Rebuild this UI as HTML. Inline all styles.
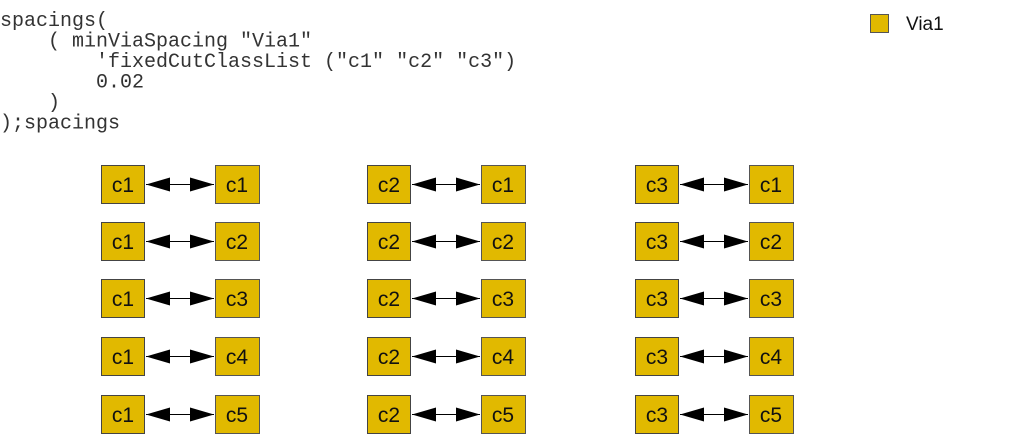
<!DOCTYPE html>
<html><head><meta charset="utf-8"><style>
html,body{margin:0;padding:0;background:#fff;width:1013px;height:447px;overflow:hidden}
.code text{white-space:pre}
</style></head><body>
<svg width="1013" height="447" viewBox="0 0 1013 447" xmlns="http://www.w3.org/2000/svg">
<defs>
<marker id="a" markerWidth="24" markerHeight="14" refX="24" refY="7" orient="auto" markerUnits="userSpaceOnUse" viewBox="0 0 24 14">
<path d="M0,0 L24,7 L0,14 Z" fill="#000"/></marker>
<marker id="b" markerWidth="24" markerHeight="14" refX="0" refY="7" orient="auto" markerUnits="userSpaceOnUse" viewBox="0 0 24 14">
<path d="M24,0 L0,7 L24,14 Z" fill="#000"/></marker>
</defs>
<g class="code" font-family="Liberation Mono, monospace" font-size="20" fill="#333">
<text x="0" y="26">spacings(</text>
<text x="0" y="46.5">    ( minViaSpacing "Via1"</text>
<text x="0" y="67">        'fixedCutClassList ("c1" "c2" "c3")</text>
<text x="0" y="87.5">        0.02</text>
<text x="0" y="108">    )</text>
<text x="0" y="128.5">);spacings</text>
</g>
<rect x="870.5" y="14.5" width="18" height="18" fill="#e1b900" stroke="#555"/>
<text x="906" y="30" font-family="Liberation Sans, sans-serif" font-size="19" fill="#111">Via1</text>
<g font-family="Liberation Sans, sans-serif" font-size="21" text-anchor="middle" fill="#111">
<rect x="101.5" y="165.5" width="43" height="38" fill="#e1b900" stroke="#444"/><text x="123" y="192">c1</text>
<rect x="215.5" y="165.5" width="44" height="38" fill="#e1b900" stroke="#555"/><text x="237" y="192">c1</text>
<line x1="146" y1="184.5" x2="214" y2="184.5" stroke="#000" marker-start="url(#b)" marker-end="url(#a)"/>
<rect x="101.5" y="222.5" width="43" height="38" fill="#e1b900" stroke="#444"/><text x="123" y="249">c1</text>
<rect x="215.5" y="222.5" width="44" height="38" fill="#e1b900" stroke="#555"/><text x="237" y="249">c2</text>
<line x1="146" y1="241.5" x2="214" y2="241.5" stroke="#000" marker-start="url(#b)" marker-end="url(#a)"/>
<rect x="101.5" y="279.5" width="43" height="38" fill="#e1b900" stroke="#444"/><text x="123" y="306">c1</text>
<rect x="215.5" y="279.5" width="44" height="38" fill="#e1b900" stroke="#555"/><text x="237" y="306">c3</text>
<line x1="146" y1="298.5" x2="214" y2="298.5" stroke="#000" marker-start="url(#b)" marker-end="url(#a)"/>
<rect x="101.5" y="337.5" width="43" height="38" fill="#e1b900" stroke="#444"/><text x="123" y="364">c1</text>
<rect x="215.5" y="337.5" width="44" height="38" fill="#e1b900" stroke="#555"/><text x="237" y="364">c4</text>
<line x1="146" y1="356.5" x2="214" y2="356.5" stroke="#000" marker-start="url(#b)" marker-end="url(#a)"/>
<rect x="101.5" y="395.5" width="43" height="38" fill="#e1b900" stroke="#444"/><text x="123" y="422">c1</text>
<rect x="215.5" y="395.5" width="44" height="38" fill="#e1b900" stroke="#555"/><text x="237" y="422">c5</text>
<line x1="146" y1="414.5" x2="214" y2="414.5" stroke="#000" marker-start="url(#b)" marker-end="url(#a)"/>
<rect x="367.5" y="165.5" width="43" height="38" fill="#e1b900" stroke="#444"/><text x="389" y="192">c2</text>
<rect x="481.5" y="165.5" width="44" height="38" fill="#e1b900" stroke="#555"/><text x="503" y="192">c1</text>
<line x1="412" y1="184.5" x2="480" y2="184.5" stroke="#000" marker-start="url(#b)" marker-end="url(#a)"/>
<rect x="367.5" y="222.5" width="43" height="38" fill="#e1b900" stroke="#444"/><text x="389" y="249">c2</text>
<rect x="481.5" y="222.5" width="44" height="38" fill="#e1b900" stroke="#555"/><text x="503" y="249">c2</text>
<line x1="412" y1="241.5" x2="480" y2="241.5" stroke="#000" marker-start="url(#b)" marker-end="url(#a)"/>
<rect x="367.5" y="279.5" width="43" height="38" fill="#e1b900" stroke="#444"/><text x="389" y="306">c2</text>
<rect x="481.5" y="279.5" width="44" height="38" fill="#e1b900" stroke="#555"/><text x="503" y="306">c3</text>
<line x1="412" y1="298.5" x2="480" y2="298.5" stroke="#000" marker-start="url(#b)" marker-end="url(#a)"/>
<rect x="367.5" y="337.5" width="43" height="38" fill="#e1b900" stroke="#444"/><text x="389" y="364">c2</text>
<rect x="481.5" y="337.5" width="44" height="38" fill="#e1b900" stroke="#555"/><text x="503" y="364">c4</text>
<line x1="412" y1="356.5" x2="480" y2="356.5" stroke="#000" marker-start="url(#b)" marker-end="url(#a)"/>
<rect x="367.5" y="395.5" width="43" height="38" fill="#e1b900" stroke="#444"/><text x="389" y="422">c2</text>
<rect x="481.5" y="395.5" width="44" height="38" fill="#e1b900" stroke="#555"/><text x="503" y="422">c5</text>
<line x1="412" y1="414.5" x2="480" y2="414.5" stroke="#000" marker-start="url(#b)" marker-end="url(#a)"/>
<rect x="635.5" y="165.5" width="43" height="38" fill="#e1b900" stroke="#444"/><text x="657" y="192">c3</text>
<rect x="749.5" y="165.5" width="44" height="38" fill="#e1b900" stroke="#555"/><text x="771" y="192">c1</text>
<line x1="680" y1="184.5" x2="748" y2="184.5" stroke="#000" marker-start="url(#b)" marker-end="url(#a)"/>
<rect x="635.5" y="222.5" width="43" height="38" fill="#e1b900" stroke="#444"/><text x="657" y="249">c3</text>
<rect x="749.5" y="222.5" width="44" height="38" fill="#e1b900" stroke="#555"/><text x="771" y="249">c2</text>
<line x1="680" y1="241.5" x2="748" y2="241.5" stroke="#000" marker-start="url(#b)" marker-end="url(#a)"/>
<rect x="635.5" y="279.5" width="43" height="38" fill="#e1b900" stroke="#444"/><text x="657" y="306">c3</text>
<rect x="749.5" y="279.5" width="44" height="38" fill="#e1b900" stroke="#555"/><text x="771" y="306">c3</text>
<line x1="680" y1="298.5" x2="748" y2="298.5" stroke="#000" marker-start="url(#b)" marker-end="url(#a)"/>
<rect x="635.5" y="337.5" width="43" height="38" fill="#e1b900" stroke="#444"/><text x="657" y="364">c3</text>
<rect x="749.5" y="337.5" width="44" height="38" fill="#e1b900" stroke="#555"/><text x="771" y="364">c4</text>
<line x1="680" y1="356.5" x2="748" y2="356.5" stroke="#000" marker-start="url(#b)" marker-end="url(#a)"/>
<rect x="635.5" y="395.5" width="43" height="38" fill="#e1b900" stroke="#444"/><text x="657" y="422">c3</text>
<rect x="749.5" y="395.5" width="44" height="38" fill="#e1b900" stroke="#555"/><text x="771" y="422">c5</text>
<line x1="680" y1="414.5" x2="748" y2="414.5" stroke="#000" marker-start="url(#b)" marker-end="url(#a)"/>
</g>
</svg>
</body></html>
